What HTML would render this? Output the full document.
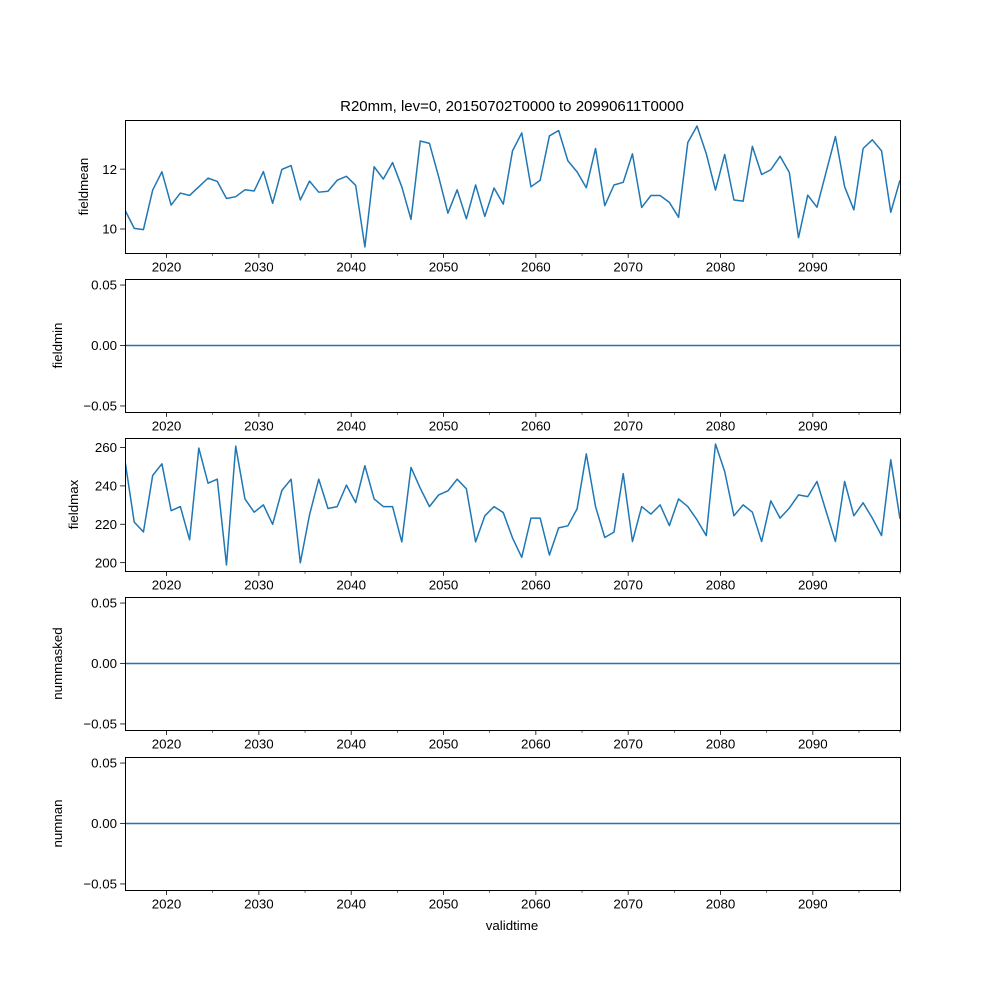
<!DOCTYPE html>
<html><head><meta charset="utf-8">
<style>
html,body{margin:0;padding:0;background:#fff;}
svg{display:block;font-family:"Liberation Sans","DejaVu Sans",sans-serif;}
</style></head>
<body>
<svg id="fig" width="1000" height="1000" viewBox="0 0 1000 1000" xmlns="http://www.w3.org/2000/svg">
<rect width="1000" height="1000" fill="#fff"/>
<text x="512" y="111" font-size="15" text-anchor="middle">R20mm, lev=0, 20150702T0000 to 20990611T0000</text>
<text x="512" y="930" font-size="13.3" text-anchor="middle">validtime</text>
</svg>
<script>
const startYear = 2015.5;
const endYear = 2099.44;
const xTickYears = [2020,2030,2040,2050,2060,2070,2080,2090];
const xMinorYears = [2025,2035,2045,2055,2065,2075,2085,2095];
const fieldmean = [10.63,10.02,9.98,11.3,11.91,10.8,11.2,11.12,11.41,11.7,11.59,11.02,11.08,11.31,11.27,11.92,10.86,11.99,12.12,10.97,11.6,11.23,11.26,11.63,11.76,11.46,9.4,12.08,11.67,12.22,11.41,10.32,12.94,12.86,11.74,10.53,11.31,10.34,11.47,10.42,11.37,10.83,12.61,13.21,11.41,11.63,13.11,13.29,12.28,11.91,11.38,12.69,10.78,11.47,11.56,12.51,10.72,11.12,11.12,10.89,10.39,12.89,13.44,12.52,11.3,12.49,10.97,10.93,12.76,11.82,11.98,12.43,11.89,9.71,11.13,10.73,11.91,13.09,11.41,10.64,12.69,12.98,12.61,10.56,11.63];
const fieldmax = [253.1,221.1,216,245.4,251.5,227.1,229.2,211.9,259.7,241.4,243.5,198.8,260.7,233.2,226.3,230.1,220,237.6,243.5,199.9,224.9,243.5,228.2,229.2,240.4,231.3,250.5,233.2,229.2,229.2,210.8,249.6,238.8,229.2,235.3,237.4,243.5,238.5,210.8,224.4,229.2,226.1,212.9,202.8,223.2,223.2,204,218.1,219.2,228,256.7,229.2,213.1,215.9,246.4,211,229.2,225.3,230.1,219.3,233.2,229.2,222.3,214.1,261.8,247.5,224.4,230.1,226.3,211,232.2,223.2,228.4,235.3,234.4,242.3,226.6,211,242.3,224.4,231.2,223.2,214.1,253.6,222.8];
const zeros = fieldmean.map(()=>0);
const meanTicks = [10,12];
const maxTicks = [200,220,240,260];
const zeroTicks = [-0.05,0,0.05];

const panels = [
 {name:'fieldmean', data:fieldmean, ticks:meanTicks, fmt:v=>String(v), top:120, labelX:92},
 {name:'fieldmin', data:zeros, ticks:zeroTicks, fmt:v=>v.toFixed(2).replace('-','\u2212'), top:279, labelX:66, fixed:[-0.055,0.055]},
 {name:'fieldmax', data:fieldmax, ticks:maxTicks, fmt:v=>String(v), top:438, labelX:82},
 {name:'nummasked', data:zeros, ticks:zeroTicks, fmt:v=>v.toFixed(2).replace('-','\u2212'), top:597, labelX:66, fixed:[-0.055,0.055]},
 {name:'numnan', data:zeros, ticks:zeroTicks, fmt:v=>v.toFixed(2).replace('-','\u2212'), top:757, labelX:66, fixed:[-0.055,0.055]}
];
const L=125, R=900, H=133;
const NS='http://www.w3.org/2000/svg';
const svg=document.getElementById('fig');
function mk(tag, attrs, parent){const e=document.createElementNS(NS,tag);for(const k in attrs)e.setAttribute(k,attrs[k]);(parent||svg).appendChild(e);return e;}
function xScale(yr){return L+(yr-startYear)/(endYear-startYear)*(R-L);}
function pointYear(i,n){return startYear+i*(endYear-startYear)/(n-1);}

panels.forEach(p=>{
  const g=mk('g',{});
  
  
  let lo,hi;
  if(p.fixed){[lo,hi]=p.fixed;}else{
    const mn=Math.min(...p.data), mx=Math.max(...p.data), m=(mx-mn)*0.05; lo=mn-m; hi=mx+m;}
  const yScale=v=>p.top+H-(v-lo)/(hi-lo)*H;
  const d=p.data.map((v,i)=>(i?'L':'M')+xScale(pointYear(i,p.data.length)).toFixed(2)+','+yScale(v).toFixed(2)).join('');
  const cp=mk('clipPath',{id:'c'+p.top},g); mk('rect',{x:L,y:p.top,width:R-L,height:H},cp);
  const path=mk('path',{d:d,fill:'none',stroke:'#1f77b4','stroke-width':1.5,'stroke-linejoin':'round','clip-path':'url(#c'+p.top+')'},g);
  
  
  const fr=mk('rect',{x:L+0.5,y:p.top+0.5,width:R-L,height:H,fill:'none',stroke:'#000','stroke-width':1},g);
  
  
  p.ticks.forEach(t=>{
    const y=yScale(t);
    mk('line',{x1:L-4.9,x2:L,y1:y,y2:y,stroke:'#000','stroke-width':0.8},g);
    const tx=mk('text',{x:L-8,y:y+4.7,'font-size':13.3,'text-anchor':'end'},g);
    tx.textContent=p.fmt(t);
    
    
  });
  const b=p.top+H;
  xTickYears.forEach(yr=>{
    const x=xScale(yr);
    mk('line',{x1:x,x2:x,y1:b,y2:b+4.9,stroke:'#000','stroke-width':0.8},g);
    const tx=mk('text',{x:x,y:b+18.5,'font-size':13.3,'text-anchor':'middle'},g);
    tx.textContent=String(yr);
    
    
  });
  xMinorYears.forEach(yr=>{
    const x=xScale(yr); if(x>R+0.5) return;
    mk('line',{x1:x,x2:x,y1:b,y2:b+2.8,stroke:'#000','stroke-width':0.6},g);
  });
  mk('line',{x1:R,x2:R,y1:b,y2:b+2.8,stroke:'#000','stroke-width':0.6},g);
  const yl=mk('text',{x:0,y:0,'font-size':13.3,'text-anchor':'middle',transform:'translate('+(p.labelX-4)+','+(p.top+H/2)+') rotate(-90)'},g);
  yl.textContent=p.name;
  
  
});
</script>
</body></html>
